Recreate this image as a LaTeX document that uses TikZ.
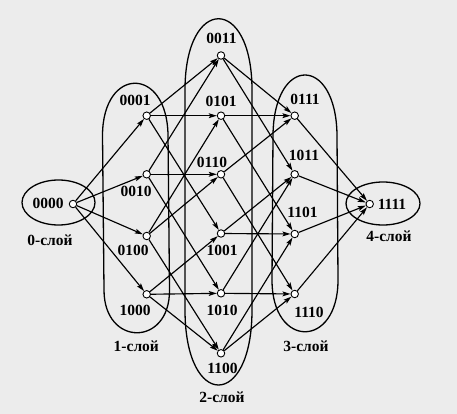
\documentclass[tikz,border=0pt]{standalone}
\usepackage{fontspec}
\setmainfont{Liberation Serif}
\usetikzlibrary{arrows.meta}
\definecolor{bgc}{RGB}{236,236,236}
\begin{document}
\begin{tikzpicture}[x=1pt,y=-1pt,
  vert/.style={circle,draw,fill=white,inner sep=0pt,minimum size=7.5pt,line width=0.9pt},
  lbl/.style={font=\fontsize{15.5}{17}\selectfont\bfseries,inner sep=0pt},
  hedge/.style={line width=1.15pt,-{Stealth[length=8pt,width=4.8pt,inset=1.5pt]}},
  layerloop/.style={line width=1.3pt}]
\fill[bgc] (0,0) rectangle (457,414);
\useasboundingbox (0,0) rectangle (457,414);
% layer loops
\draw[layerloop] (58.5,202.5) ellipse [x radius=36.5pt, y radius=22.5pt];
\draw[layerloop] (102.5,135) .. controls (103,66) and (167,66) .. (168,135) -- (169.5,290) .. controls (170,347) and (104,347) .. (104,290) -- cycle;
\draw[layerloop] (185,90) .. controls (185,-5) and (252,-5) .. (252,90) -- (252,310) .. controls (252,410) and (185,410) .. (185,310) -- cycle;
\draw[layerloop] (273,135) .. controls (274,55) and (336,55) .. (337,135) -- (338,280) .. controls (338,349) and (272,349) .. (272,280) -- cycle;
\draw[layerloop] (383,203.5) ellipse [x radius=37pt, y radius=21.5pt];
% vertices
\node[vert] (n0000) at (73,204) {};
\node[vert] (n0001) at (146.7,115.7) {};
\node[vert] (n0010) at (146.7,174.3) {};
\node[vert] (n0100) at (146.7,236) {};
\node[vert] (n1000) at (146.7,294.3) {};
\node[vert] (n0011) at (221,55.5) {};
\node[vert] (n0101) at (221,115.7) {};
\node[vert] (n0110) at (221,174.3) {};
\node[vert] (n1001) at (221,233.5) {};
\node[vert] (n1010) at (221,293.3) {};
\node[vert] (n1100) at (221,353.3) {};
\node[vert] (n0111) at (294.7,115.7) {};
\node[vert] (n1011) at (294.7,174.3) {};
\node[vert] (n1101) at (294.7,234) {};
\node[vert] (n1110) at (294.7,294) {};
\node[vert] (n1111) at (369.7,204) {};
% edges
\foreach \s/\t in {0000/0001,0000/0010,0000/0100,0000/1000,
  0001/0011,0001/0101,0001/1001,
  0010/0011,0010/0110,0010/1010,
  0100/0101,0100/0110,0100/1100,
  1000/1001,1000/1010,1000/1100,
  0011/0111,0011/1011,0101/0111,0101/1101,0110/0111,0110/1110,
  1001/1011,1001/1101,1010/1011,1010/1110,1100/1101,1100/1110,
  0111/1111,1011/1111,1101/1111,1110/1111}
  \draw[hedge] (n\s) -- (n\t);
% labels
\node[lbl] (l0000) at (48,203.5) {0000};
\node[lbl] (l0001) at (135,100) {0001};
\node[lbl] (l0010) at (136,191.7) {0010};
\node[lbl] (l0100) at (133,250.7) {0100};
\node[lbl] (l1000) at (135,310) {1000};
\node[lbl] (l0011) at (221.5,38.3) {0011};
\node[lbl] (l0101) at (221,101.7) {0101};
\node[lbl] (l0110) at (212,162) {0110};
\node[lbl] (l1001) at (222,250) {1001};
\node[lbl] (l1010) at (222,310) {1010};
\node[lbl] (l1100) at (222.5,368.3) {1100};
\node[lbl] (l0111) at (305,99.3) {0111};
\node[lbl] (l1011) at (304,155) {1011};
\node[lbl] (l1101) at (302.5,212.7) {1101};
\node[lbl] (l1110) at (309,312.5) {1110};
\node[lbl] (l1111) at (392,204.5) {1111};
\node[lbl] (s0) at (50,240) {0-слой};
\node[lbl] (s1) at (136.3,346.7) {1-слой};
\node[lbl] (s2) at (222,397.3) {2-слой};
\node[lbl] (s3) at (306,346) {3-слой};
\node[lbl] (s4) at (389,236.7) {4-слой};
\end{tikzpicture}
\end{document}
